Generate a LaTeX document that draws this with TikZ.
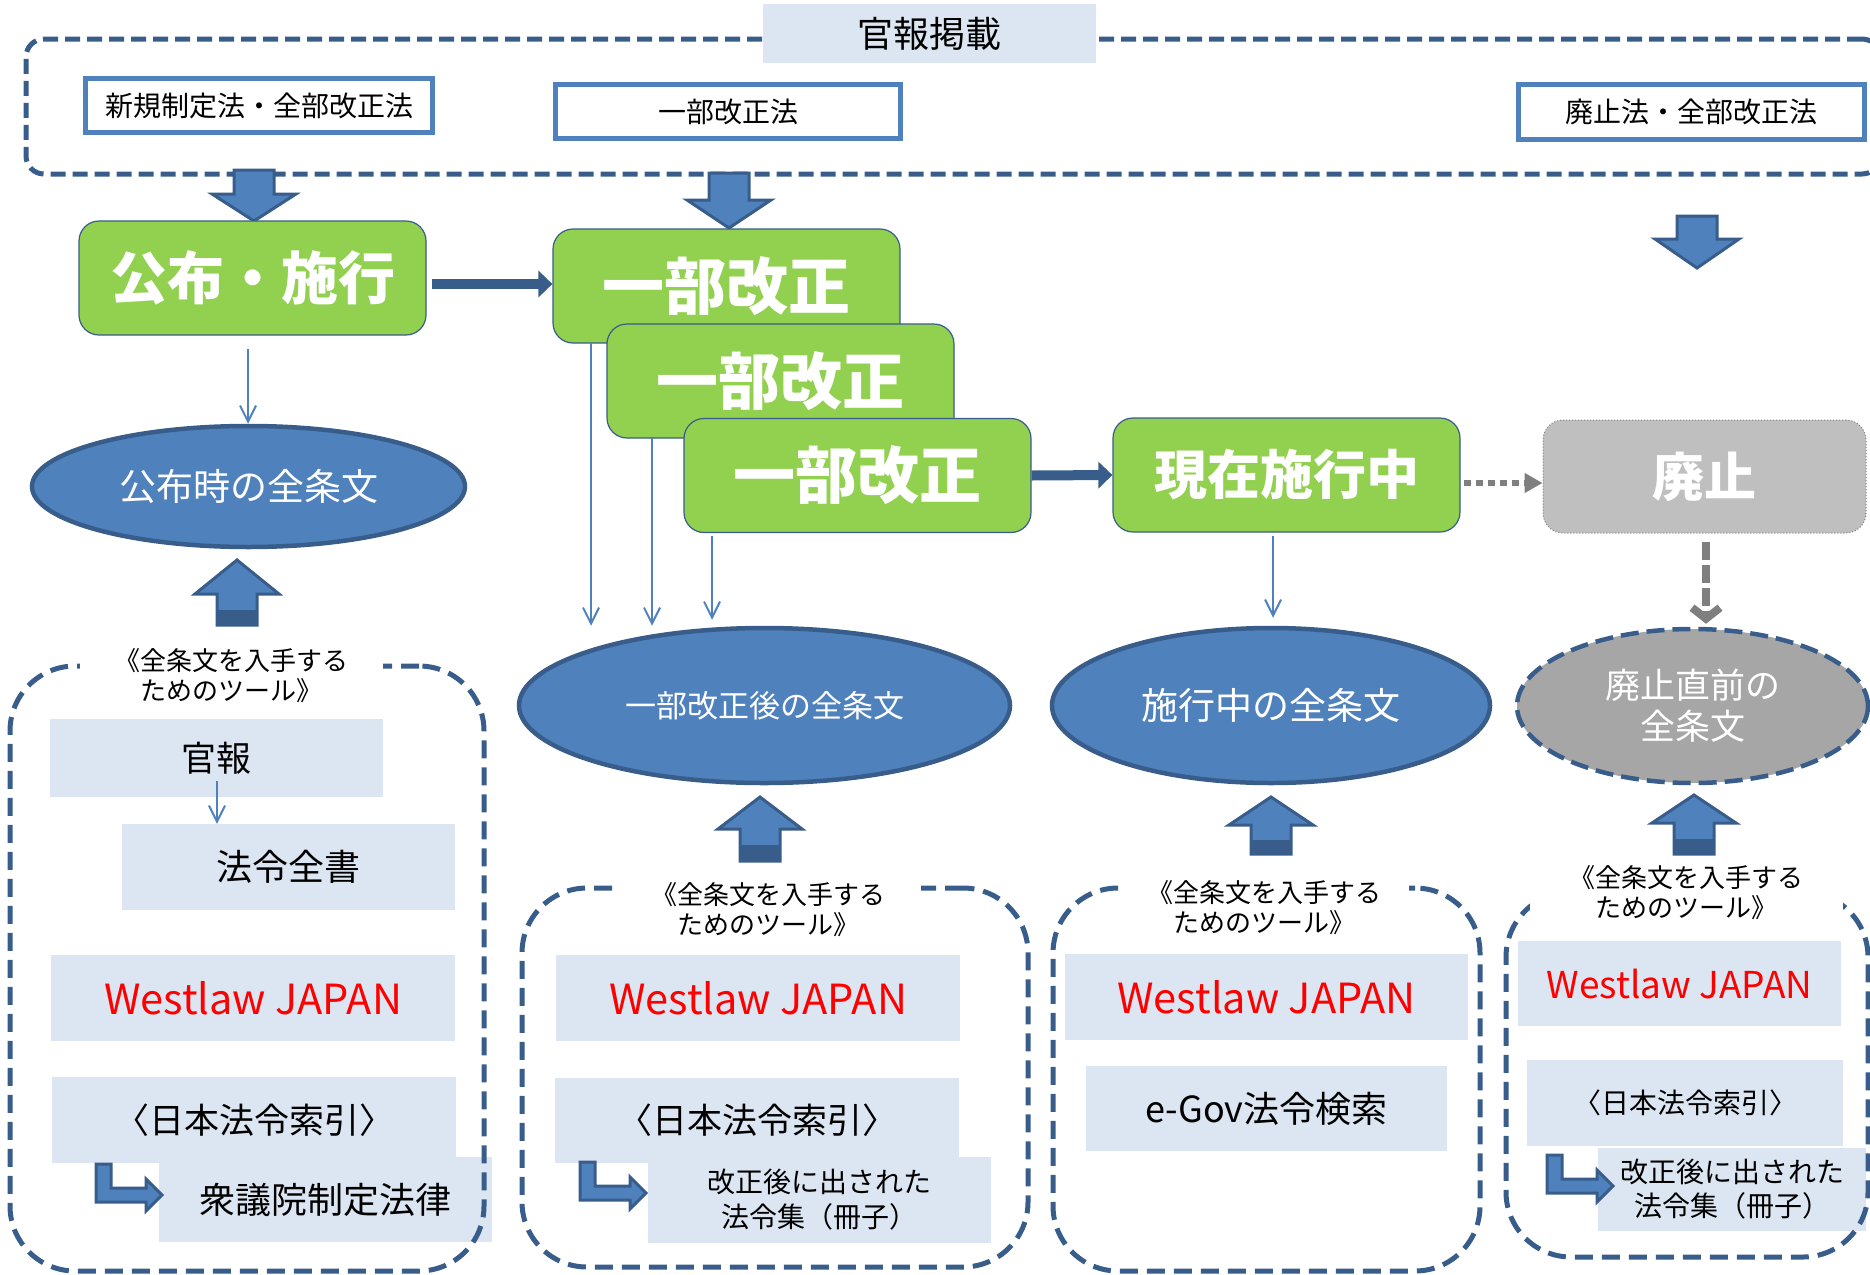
\documentclass[tikz,border=0pt]{standalone}
\usepackage{fontspec}
\setmainfont{Noto Sans CJK JP}
\usetikzlibrary{arrows.meta,shapes.geometric,positioning}
\definecolor{lawgreen}{HTML}{92D050}
\definecolor{lawblue}{HTML}{4F81BD}
\definecolor{lawnavy}{HTML}{385D8A}
\definecolor{lawpale}{HTML}{DCE6F2}
\definecolor{lawgray}{HTML}{A6A6A6}
\definecolor{lawsilver}{HTML}{BFBFBF}
\definecolor{lawgrayline}{HTML}{7F7F7F}
\newcommand{\fsz}[2]{\fontsize{#1}{#2}\selectfont}
% block arrow: centre x, tail y, head base y, tip y
\newcommand{\blockarrow}[4]{%
  \filldraw[fill=lawblue,draw=lawnavy,line width=3pt]
    (#1-20,#2)--(#1-20,#3)--(#1-42,#3)--(#1,#4)--(#1+42,#3)--(#1+20,#3)--(#1+20,#2)--cycle;}
% same, with the darker foot of the up arrows
\newcommand{\blockarrowup}[4]{%
  \blockarrow{#1}{#2}{#3}{#4}
  \fill[lawnavy] (#1-20,{(#2+#3)/2}) rectangle (#1+20,#2);}
% bent arrow: top left corner
\newcommand{\bentarrow}[2]{%
  \filldraw[fill=lawblue,draw=lawnavy,line width=3pt]
    (#1,#2)--(#1+15,#2)--(#1+15,#2+24)--(#1+50,#2+24)--(#1+50,#2+15)--(#1+66,#2+31)
    --(#1+50,#2+47)--(#1+50,#2+38)--(#1,#2+38)--cycle;}
\begin{document}
\begin{tikzpicture}[x=1pt,y=-1pt,
  topbox/.style={draw=lawblue,line width=5pt,fill=white,inner sep=0pt,font=\fsz{28}{32}},
  phase/.style={rectangle,rounded corners=20pt,fill=lawgreen,draw=lawnavy,line width=1.2pt,
    text=white,minimum width=347pt,minimum height=114pt,inner sep=0pt},
  fulltext/.style={ellipse,fill=lawblue,draw=lawnavy,line width=4.5pt,text=white,inner sep=0pt},
  tool/.style={fill=lawpale,inner sep=0pt},
  toolframe/.style={draw=lawnavy,line width=5pt,dash pattern=on 18pt off 9pt,rounded corners=65pt},
  toollabel/.style={fill=white,align=center,font=\fsz{26}{30},inner ysep=1pt},
  thinarr/.style={draw=lawblue,line width=2pt,-{Straight Barb[length=16pt,width=16pt]}},
  boldarr/.style={draw=lawnavy,line width=10pt,-{Triangle[length=14pt,width=26pt]}},
]
\useasboundingbox (0,0) rectangle (1870,1274);

% gazette
\node[draw=lawnavy,line width=5pt,dash pattern=on 15pt off 7pt,rounded corners=18pt,
  minimum width=1854pt,minimum height=135pt] (gazette) at (953,106.5) {};
\node[fill=lawpale,minimum width=333pt,minimum height=59pt,font=\fsz{36}{40}] (gazettetitle) at (929.5,33.5) {官報掲載};
\node[topbox,minimum width=347pt,minimum height=54pt] (newlaw) at (259,105.5) {新規制定法・全部改正法};
\node[topbox,minimum width=345pt,minimum height=54pt] (partlaw) at (728,111.5) {一部改正法};
\node[topbox,minimum width=346pt,minimum height=55pt] (abollaw) at (1691.5,112) {廃止法・全部改正法};

\blockarrow{254}{170}{194}{221}
\blockarrow{729}{173}{200}{228}
\blockarrow{1697}{216}{239}{268}

% phases
\node[phase,font=\bfseries\fsz{57}{60}] (promul) at (252.5,278) {公布・施行};
\node[phase,font=\bfseries\fsz{62}{66}] (amendA) at (726.5,286) {一部改正};
\node[phase,font=\bfseries\fsz{62}{66}] (amendB) at (780.5,381) {一部改正};
\node[phase,font=\bfseries\fsz{62}{66}] (amendC) at (857.5,475.5) {一部改正};
\node[phase,font=\bfseries\fsz{53}{56}] (current) at (1286.5,475) {現在施行中};
\node[phase,fill=lawsilver,draw=lawgrayline,line width=1pt,dotted,minimum width=323pt,minimum height=113pt,
  font=\bfseries\fsz{52}{56}] (abol) at (1704.5,476.5) {廃止};

% full texts
\node[fulltext,minimum width=433pt,minimum height=121pt,font=\fsz{37}{40}] (textpromul) at (248.5,486.5) {公布時の全条文};
\node[fulltext,minimum width=491pt,minimum height=155pt,font=\fsz{31}{36}] (textamend) at (764.5,705.5) {一部改正後の全条文};
\node[fulltext,minimum width=438pt,minimum height=155pt,font=\fsz{37}{40}] (textcurrent) at (1271,705.5) {施行中の全条文};
\node[fulltext,fill=lawgray,dash pattern=on 18pt off 8pt,minimum width=351pt,minimum height=154pt,
  align=center,font=\fsz{35}{41}] (textabol) at (1692.5,706) {廃止直前の\\全条文};

% connectors
\coordinate (pe) at ([yshift=-6pt]promul.east);
\coordinate (ce) at ([yshift=-8pt]current.east);
\draw[boldarr,shorten <=5pt] (pe) -- (pe -| amendA.west);
\draw[boldarr] (amendC.east) -- (current.west);
\draw[draw=lawgrayline,line width=6pt,dash pattern=on 7pt off 5pt,shorten <=3pt,
  -{Triangle[length=18pt,width=19pt]}] (ce) -- (ce -| abol.west);
\coordinate (tP) at (248,349);
\coordinate (tA) at (591,343);
\coordinate (tB) at (652,438);
\coordinate (tC) at (712,536);
\coordinate (tD) at (1273,536);
\coordinate (tE) at (1706,542);
\draw[thinarr] (tP) -- (tP |- textpromul.north);
\draw[thinarr] (tA) -- (tA |- textamend.north);
\draw[thinarr] (tB) -- (tB |- textamend.north);
\draw[thinarr,shorten >=6pt] (tC) -- (tC |- textamend.north);
\draw[thinarr,shorten >=8pt] (tD) -- (tD |- textcurrent.north);
\draw[draw=lawgrayline,line width=8pt,dash pattern=on 18pt off 5pt,shorten >=3pt,
  -{Straight Barb[length=11pt,width=28pt]}] (tE) -- (tE |- textabol.north);

% tools: promulgation
\node[tool,minimum width=333pt,minimum height=78pt,font=\fsz{35}{40}] (kanpo) at (216.5,758) {官報};
\node[tool,minimum width=333pt,minimum height=86pt,font=\fsz{36}{40}] (zensho) at (288.5,867) {法令全書};
\node[tool,minimum width=404pt,minimum height=86pt,font=\fsz{41.5}{46},text=red] (westA) at (253,998) {Westlaw JAPAN};
\node[tool,minimum width=404pt,minimum height=86pt,font=\fsz{35}{40}] (indexA) at (254,1120) {〈日本法令索引〉};
\node[tool,minimum width=333pt,minimum height=85pt,font=\fsz{36}{40}] (shugi) at (325.5,1199.5) {衆議院制定法律};
\coordinate (tK) at (217,781);
\draw[thinarr] (tK) -- (tK |- zensho.north);

% tools: amendment
\node[tool,minimum width=404pt,minimum height=86pt,font=\fsz{41.5}{46},text=red] (westB) at (758,998) {Westlaw JAPAN};
\node[tool,minimum width=404pt,minimum height=85pt,font=\fsz{35}{40}] (indexB) at (757,1120.5) {〈日本法令索引〉};
\node[tool,minimum width=343pt,minimum height=86pt,align=center,font=\fsz{28}{35}] (bookB) at (819.5,1200) {改正後に出された\\法令集（冊子）};

% tools: in force
\node[tool,minimum width=403pt,minimum height=86pt,font=\fsz{41.5}{46},text=red] (westC) at (1266.5,997) {Westlaw JAPAN};
\node[tool,minimum width=361pt,minimum height=85pt,font=\fsz{36}{40}] (egov) at (1266.5,1108.5) {e-Gov法令検索};

% tools: abolition
\node[tool,minimum width=323pt,minimum height=85pt,font=\fsz{37}{42},text=red] (westD) at (1679.5,983.5) {Westlaw JAPAN};
\node[tool,minimum width=316pt,minimum height=86pt,font=\fsz{28}{32}] (indexD) at (1685,1103) {〈日本法令索引〉};
\node[tool,minimum width=268pt,minimum height=83pt,align=center,font=\fsz{28}{34}] (bookD) at (1732,1189.5) {改正後に出された\\法令集（冊子）};

% frames and labels
\node[toolframe,minimum width=474pt,minimum height=605pt] (frameA) at (247,968.5) {};
\node[toolframe,minimum width=506pt,minimum height=379pt] (frameB) at (775,1077.5) {};
\node[toolframe,minimum width=427pt,minimum height=383pt] (frameC) at (1266.5,1079.5) {};
\node[toolframe,minimum width=362pt,minimum height=365pt] (frameD) at (1687,1074.5) {};
\node[toollabel,minimum width=303pt] (labelA) at (231,676) {《全条文を入手する\\ためのツール》};
\node[toollabel,minimum width=305pt] (labelB) at (768,910) {《全条文を入手する\\ためのツール》};
\node[toollabel,minimum width=289pt] (labelC) at (1264,908) {《全条文を入手する\\ためのツール》};
\node[toollabel,minimum width=313pt] (labelD) at (1686,893) {《全条文を入手する\\ためのツール》};

\bentarrow{96}{1164}
\bentarrow{580}{1162}
\bentarrow{1547}{1155}

\blockarrowup{237}{625}{594}{560}
\blockarrowup{760}{861}{829}{797}
\blockarrowup{1271}{854}{825}{797}
\blockarrowup{1694}{854}{823}{795}
\end{tikzpicture}
\end{document}
